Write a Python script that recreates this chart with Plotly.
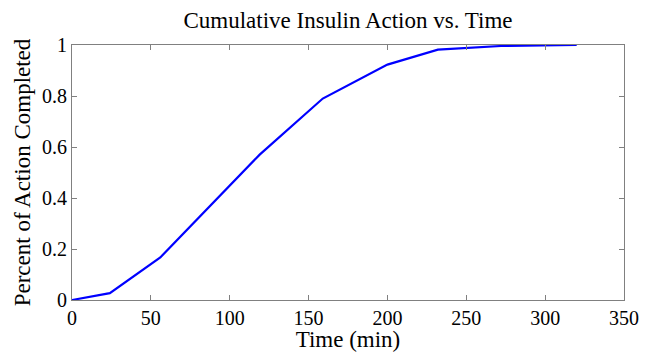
import plotly.graph_objects as go

time_min = [0, 24, 56, 119, 159, 200, 232, 272, 320]
pct_completed = [0, 0.027, 0.167, 0.57, 0.79, 0.923, 0.982, 0.996, 1.0]
x_ticks = [0, 50, 100, 150, 200, 250, 300, 350]
y_ticks = [0, 0.2, 0.4, 0.6, 0.8, 1]
y_tick_labels = ["0", "0.2", "0.4", "0.6", "0.8", "1"]

font = "Liberation Serif, Times New Roman, serif"

fig = go.Figure(go.Scatter(x=time_min, y=pct_completed, mode="lines",
                           line=dict(color="#0000ff", width=2.2)))

axis_common = dict(showgrid=False, zeroline=False, ticks="inside", ticklen=5,
                   tickcolor="#808080", showline=True, linecolor="#808080",
                   linewidth=1, mirror="allticks",
                   tickfont=dict(family=font, size=20, color="black"))

fig.update_xaxes(range=[0, 350], tickvals=x_ticks,
                 title=dict(text="Time (min)", font=dict(family=font, size=23, color="black"), standoff=0),
                 **axis_common)
fig.update_yaxes(range=[0, 1], tickvals=y_ticks, ticktext=y_tick_labels,
                 title=dict(text="Percent of Action Completed", font=dict(family=font, size=23, color="black"), standoff=4),
                 **axis_common)

fig.update_layout(
    width=655, height=352,
    margin=dict(l=72, r=31, t=45, b=52, autoexpand=False),
    paper_bgcolor="white", plot_bgcolor="white",
    showlegend=False,
    title=dict(text="Cumulative Insulin Action vs. Time", x=0.5, xref="paper", xanchor="center",
               y=0.943, yanchor="middle",
               font=dict(family=font, size=23, color="black")),
)

fig.write_html("out.html", config={"displayModeBar": False},
               post_script="document.body.style.margin='0';")
